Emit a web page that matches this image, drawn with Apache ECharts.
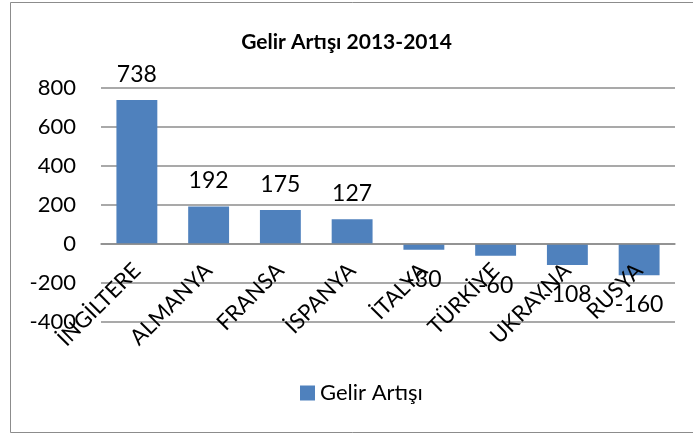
<!DOCTYPE html>
<html><head><meta charset="utf-8">
<script src="https://cdn.jsdelivr.net/npm/echarts@6/dist/echarts.min.js"></script>
<style>html,body{margin:0;padding:0;background:#fff}#c{width:693px;height:435px}</style>
</head><body><div id="c"></div>
<script>
const categories = ['İNGİLTERE','ALMANYA','FRANSA','İSPANYA','İTALYA','TÜRKİYE','UKRAYNA','RUSYA'];
const values = [738,192,175,127,-30,-60,-108,-160];
const yTicks = [-400,-200,0,200,400,600,800];
const seriesName = 'Gelir Artışı';
const titleText = 'Gelir Artışı 2013-2014';

const FONT = 'Lato, "Open Sans", sans-serif';
const chart = echarts.init(document.getElementById('c'), null, {renderer:'canvas'});
chart.setOption({
  animation:false,
  backgroundColor:'#fff',
  graphic:[{type:'rect',shape:{x:10.5,y:2.5,width:700,height:430},style:{fill:'none',stroke:'#8c8c8c',lineWidth:1},silent:true,z:-1}],
  title:{text:titleText,left:'center',top:27,textStyle:{fontFamily:FONT,fontWeight:'bold',fontSize:21,color:'#000'}},
  legend:{data:[seriesName],bottom:26,left:295,itemWidth:15,itemHeight:15,itemGap:6,icon:'rect',
    textStyle:{fontFamily:FONT,fontSize:22,color:'#000'}},
  grid:{left:101,right:18,top:88,bottom:113},
  xAxis:{type:'category',data:categories,offset:-78,z:10,
    axisLine:{onZero:false,lineStyle:{color:'#8c8c8c',width:1.5}},
    axisTick:{show:false},
    axisLabel:{rotate:45,fontFamily:FONT,fontSize:22,color:'#000',margin:23,interval:0}},
  yAxis:{type:'value',min:yTicks[0],max:yTicks[yTicks.length-1],interval:200,
    axisLine:{show:false},axisTick:{show:false},
    splitLine:{lineStyle:{color:'#8c8c8c',width:1.5}},
    axisLabel:{fontFamily:FONT,fontSize:22,color:'#000',margin:25}},
  series:[{name:seriesName,type:'bar',barWidth:'57%',itemStyle:{color:'#4f81bd'},z:2,
    data:values.map(v=>({value:v,label:{show:true,position:v>=0?'top':'bottom',distance:v>=0?14:18}})),
    label:{fontFamily:FONT,fontSize:23,color:'#000'}}]
});
</script></body></html>
